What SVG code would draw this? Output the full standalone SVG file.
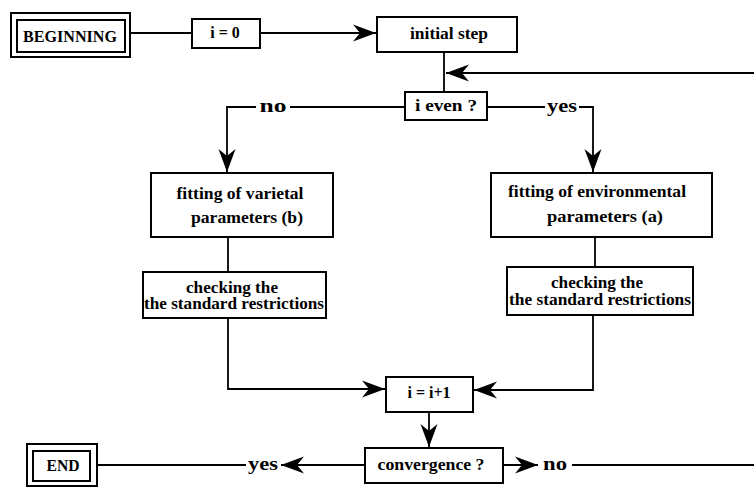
<svg xmlns="http://www.w3.org/2000/svg" width="754" height="487" viewBox="0 0 754 487">
<style>
.box{fill:#fff;stroke:#000;stroke-width:2}
.ln{fill:none;stroke:#000;stroke-width:1.8}
.t{font-family:"Liberation Serif","Times New Roman",serif;font-weight:bold;font-size:16px;fill:#000;text-anchor:middle}
.lbl{font-family:"Liberation Serif","Times New Roman",serif;font-weight:bold;font-size:18px;fill:#000;text-anchor:middle}
</style>
<defs>
<marker id="ah" markerUnits="userSpaceOnUse" markerWidth="30" markerHeight="20" viewBox="-24 -10 26 20" refX="0" refY="0" orient="auto">
<path d="M0,0 L-23,-8.5 L-16,0 L-23,8.5 Z" fill="#000"/>
</marker>
</defs>
<rect width="754" height="487" fill="#fff"/>
<g id="connectors">
<path class="ln" d="M130,33 H192"/>
<path class="ln" d="M260,33 H376" marker-end="url(#ah)"/>
<path class="ln" d="M444,52 V92"/>
<path class="ln" d="M754,73 H446" marker-end="url(#ah)"/>
<path class="ln" d="M405,107 H290 M256,107 H227 V172" marker-end="url(#ah)"/>
<path class="ln" d="M487,107 H545 M579,107 H593 V172" marker-end="url(#ah)"/>
<path class="ln" d="M228,237 V272"/>
<path class="ln" d="M595,237 V267"/>
<path class="ln" d="M228,318 V389 H385" marker-end="url(#ah)"/>
<path class="ln" d="M593,315 V390 H474" marker-end="url(#ah)"/>
<path class="ln" d="M429,412 V447" marker-end="url(#ah)"/>
<path class="ln" d="M365,465 H281" marker-end="url(#ah)"/>
<path class="ln" d="M246,465 H97"/>
<path class="ln" d="M503,465 H538" marker-end="url(#ah)"/>
<path class="ln" d="M572,465 H754"/>
<text class="lbl" x="273" y="112" textLength="27" lengthAdjust="spacingAndGlyphs">no</text>
<text class="lbl" x="562" y="112" textLength="30" lengthAdjust="spacingAndGlyphs">yes</text>
<text class="lbl" x="263" y="470" textLength="30" lengthAdjust="spacingAndGlyphs">yes</text>
<text class="lbl" x="555" y="470" textLength="24" lengthAdjust="spacingAndGlyphs">no</text>
</g>
<g id="beginning">
<rect class="box" x="11" y="13" width="119" height="44"/>
<rect class="box" x="17" y="20" width="108" height="32"/>
<text class="t" x="70" y="42" textLength="94" lengthAdjust="spacingAndGlyphs">BEGINNING</text>
</g>
<g id="i0">
<rect class="box" x="192" y="19" width="68" height="29"/>
<text class="t" x="225" y="38">i = 0</text>
</g>
<g id="initial">
<rect class="box" x="377" y="17" width="140" height="35"/>
<text class="t" x="449" y="39" textLength="78" lengthAdjust="spacingAndGlyphs">initial step</text>
</g>
<g id="ieven">
<rect class="box" x="405" y="92" width="82" height="28"/>
<text class="t" x="446" y="111" textLength="62" lengthAdjust="spacingAndGlyphs">i even ?</text>
</g>
<g id="varietal">
<rect class="box" x="151" y="173" width="182" height="64"/>
<text class="t" x="240" y="199" textLength="127" lengthAdjust="spacingAndGlyphs">fitting of varietal</text>
<text class="t" x="247" y="223" textLength="112" lengthAdjust="spacingAndGlyphs">parameters  (b)</text>
</g>
<g id="environmental">
<rect class="box" x="491" y="173" width="221" height="64"/>
<text class="t" x="597" y="197" textLength="178" lengthAdjust="spacingAndGlyphs">fitting of environmental</text>
<text class="t" x="605" y="222" textLength="116" lengthAdjust="spacingAndGlyphs">parameters  (a)</text>
</g>
<g id="check-left">
<rect class="box" x="143" y="272" width="183" height="46"/>
<text class="t" x="232" y="293" textLength="92" lengthAdjust="spacingAndGlyphs">checking the</text>
<text class="t" x="234" y="309" textLength="180" lengthAdjust="spacingAndGlyphs">the standard restrictions</text>
</g>
<g id="check-right">
<rect class="box" x="507" y="267" width="186" height="48"/>
<text class="t" x="597" y="288" textLength="92" lengthAdjust="spacingAndGlyphs">checking the</text>
<text class="t" x="600" y="305" textLength="182" lengthAdjust="spacingAndGlyphs">the standard restrictions</text>
</g>
<g id="increment">
<rect class="box" x="386" y="377" width="87" height="35"/>
<text class="t" x="429" y="398">i = i+1</text>
</g>
<g id="convergence">
<rect class="box" x="365" y="448" width="138" height="35"/>
<text class="t" x="431" y="470" textLength="107" lengthAdjust="spacingAndGlyphs">convergence ?</text>
</g>
<g id="end">
<rect class="box" x="27" y="444" width="70" height="42"/>
<rect class="box" x="33" y="451" width="57" height="30"/>
<text class="t" x="63" y="471" textLength="33" lengthAdjust="spacingAndGlyphs">END</text>
</g>
</svg>
